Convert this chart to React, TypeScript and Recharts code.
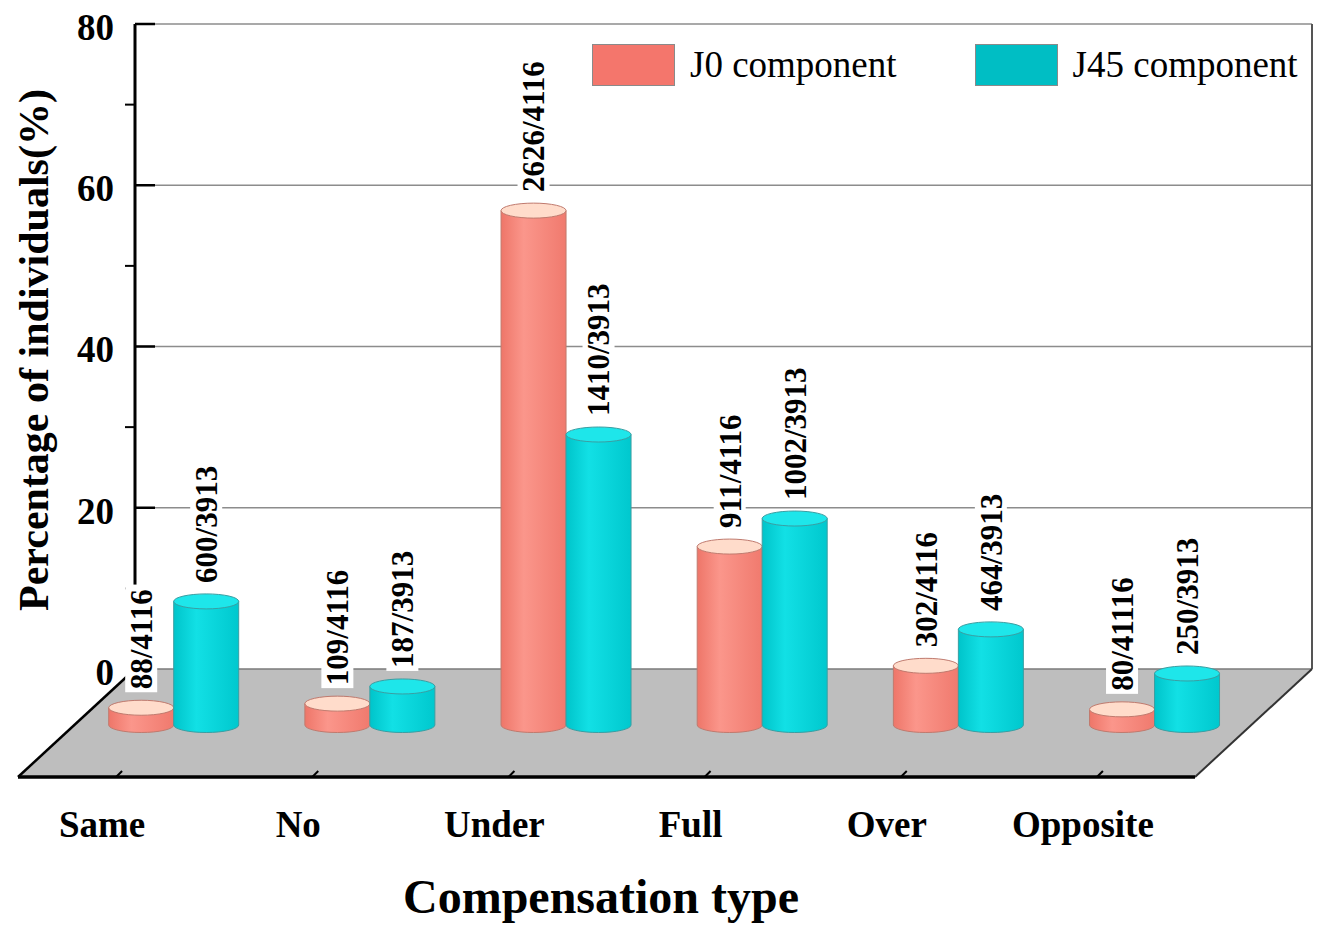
import React from 'react'
import { BarChart, Bar, XAxis, YAxis, CartesianGrid, Legend, LabelList } from 'recharts'

const categories = ['Same', 'No', 'Under', 'Full', 'Over', 'Opposite']
const j0Values = [2.14, 2.65, 63.8, 22.13, 7.34, 1.94]
const j45Values = [15.33, 4.78, 36.03, 25.61, 11.86, 6.39]
const j0Labels = ['88/4116', '109/4116', '2626/4116', '911/4116', '302/4116', '80/41116']
const j45Labels = ['600/3913', '187/3913', '1410/3913', '1002/3913', '464/3913', '250/3913']
const yTicks = [0, 10, 20, 30, 40, 50, 60, 70, 80]
const gridValues = [20, 40, 60, 80]

const data = categories.map((name, i) => ({
  name, j0: j0Values[i], j45: j45Values[i], j0Label: j0Labels[i], j45Label: j45Labels[i],
}))

// layout: the plot area is the back wall, bars sit half way into the floor
const W = 1325, H = 935
const LEFT = 135, RIGHT = 1312, TOP = 24, BOTTOM = 669
const DEPTH_X = -117, DEPTH_Y = 108   // back edge -> front edge of the floor
const DX = -59, DY = 56               // back wall -> bar plane
const RY = 7.5
const FONT = '"Liberation Serif", "Times New Roman", serif'

function Scene() {
  return (
    <g>
      <defs>
        <linearGradient id='g-j0' x1='0' y1='0' x2='1' y2='0'>
          <stop offset='0%' stopColor='#ee7669' />
          <stop offset='35%' stopColor='#fb968b' />
          <stop offset='100%' stopColor='#f07a6e' />
        </linearGradient>
        <linearGradient id='g-j45' x1='0' y1='0' x2='1' y2='0'>
          <stop offset='0%' stopColor='#00c4ca' />
          <stop offset='35%' stopColor='#12e0e5' />
          <stop offset='100%' stopColor='#00c8ce' />
        </linearGradient>
      </defs>
      <polygon
        points={`${LEFT},${BOTTOM} ${RIGHT},${BOTTOM} ${RIGHT + DEPTH_X},${BOTTOM + DEPTH_Y} ${LEFT + DEPTH_X},${BOTTOM + DEPTH_Y}`}
        fill='#bebebe' />
      <line x1={LEFT} y1={BOTTOM} x2={RIGHT} y2={BOTTOM} stroke='#7a7a7a' strokeWidth={1.5} />
      <line x1={RIGHT} y1={TOP} x2={RIGHT} y2={BOTTOM} stroke='#555' strokeWidth={2} />
      <line x1={LEFT} y1={BOTTOM} x2={LEFT + DEPTH_X} y2={BOTTOM + DEPTH_Y} stroke='#000' strokeWidth={2.5} />
      <line x1={RIGHT} y1={BOTTOM} x2={RIGHT + DEPTH_X} y2={BOTTOM + DEPTH_Y} stroke='#333' strokeWidth={2} />
      <line x1={LEFT + DEPTH_X} y1={BOTTOM + DEPTH_Y} x2={RIGHT + DEPTH_X} y2={BOTTOM + DEPTH_Y} stroke='#000' strokeWidth={3.5} />
      <text transform={`translate(48,350) rotate(-90)`} textAnchor='middle' fontFamily={FONT}
        fontWeight='bold' fontSize={42} fill='#000'>Percentage of individuals(%)</text>
      <text x={601} y={913} textAnchor='middle' fontFamily={FONT} fontWeight='bold' fontSize={48} fill='#000'>
        Compensation type
      </text>
    </g>
  )
}

function Cylinder(p: any, grad: string, top: string, edge: string) {
  const { x, y, width, height } = p
  const rx = width / 2
  const cx = x + rx + DX
  const t = y + DY
  const b = y + height + DY
  return (
    <g>
      <path d={`M${cx - rx},${t} L${cx - rx},${b} A${rx},${RY} 0 0 0 ${cx + rx},${b} L${cx + rx},${t} Z`}
        fill={`url(#${grad})`} stroke={edge} strokeWidth={1} />
      <ellipse cx={cx} cy={t} rx={rx} ry={RY} fill={top} stroke={edge} strokeWidth={1} />
    </g>
  )
}

function VLabel(p: any) {
  const { x, y, width, value } = p
  const cx = Number(x) + Number(width) / 2 + DX
  const base = Number(y) + DY - RY - 11
  const s = String(value)
  const fs = 31
  const len = fs * (s.replace('/', '').length * 0.5 + 0.28)
  return (
    <g transform={`translate(${cx},${base}) rotate(-90)`}>
      <rect x={-3} y={-16} width={len + 6} height={32} fill='#fff' />
      <text x={0} y={0} dy='0.35em' textAnchor='start' fontFamily={FONT} fontWeight='bold' fontSize={fs} fill='#000'>
        {s}
      </text>
    </g>
  )
}

function YTick(p: any) {
  const { y, payload } = p
  const v = payload.value
  if (v % 20 !== 0) return <line x1={LEFT - 10} y1={y} x2={LEFT} y2={y} stroke='#000' strokeWidth={2} />
  return (
    <g>
      {v !== 0 && <line x1={LEFT} y1={y} x2={LEFT + 20} y2={y} stroke='#000' strokeWidth={2.5} />}
      <text x={114} y={y + 3} dy='0.35em' textAnchor='end' fontFamily={FONT} fontWeight='bold' fontSize={37} fill='#000'>
        {v}
      </text>
    </g>
  )
}

function XTick(p: any) {
  const { x, payload } = p
  const fx = x + DEPTH_X
  const fy = BOTTOM + DEPTH_Y
  return (
    <g>
      <line x1={fx} y1={fy} x2={fx + 6} y2={fy - 6} stroke='#000' strokeWidth={2} />
      <text x={fx - 14} y={fy + 60} textAnchor='middle' fontFamily={FONT} fontWeight='bold' fontSize={37} fill='#000'>
        {payload.value}
      </text>
    </g>
  )
}

function LegendBox({ payload }: any) {
  return (
    <div style={{ display: 'flex', alignItems: 'center', fontFamily: FONT, fontSize: 37, color: '#000' }}>
      {(payload || []).map((e: any, i: number) => (
        <div key={i} style={{ display: 'flex', alignItems: 'center', marginLeft: i ? 78 : 0 }}>
          <div style={{ width: 83, height: 42, background: e.color, border: '1px solid #8a8a8a', boxSizing: 'border-box' }} />
          <span style={{ marginLeft: 15, whiteSpace: 'nowrap' }}>{e.value}</span>
        </div>
      ))}
    </div>
  )
}

export default function App() {
  const yAxisW = 60, xAxisH = 40
  return (
    <div style={{ position: 'absolute', left: 0, top: 0, width: W, height: H, background: '#fff' }}>
      <BarChart width={W} height={H} data={data}
        margin={{ top: TOP, right: W - RIGHT, left: LEFT - yAxisW, bottom: H - BOTTOM - xAxisH }}
        barCategoryGap='16.67%' barGap={0}>
        <Scene />
        <CartesianGrid horizontal vertical={false} horizontalValues={gridValues} stroke='#8c8c8c' strokeWidth={1.5} />
        <XAxis dataKey='name' height={xAxisH} axisLine={false} tickLine={false} interval={0} tick={<XTick />} />
        <YAxis width={yAxisW} domain={[0, 80]} ticks={yTicks} interval={0} tickLine={false}
          axisLine={{ stroke: '#000', strokeWidth: 3 }} tick={<YTick />} />
        <Legend verticalAlign='middle' align='center' layout='horizontal'
          wrapperStyle={{ top: 43, left: 592, width: 'auto' }} content={<LegendBox />} />
        <Bar dataKey='j0' name='J0 component' fill='#f4766c' isAnimationActive={false}
          shape={(p: any) => Cylinder(p, 'g-j0', '#ffdccb', '#c07a6e')}>
          <LabelList dataKey='j0Label' content={<VLabel />} />
        </Bar>
        <Bar dataKey='j45' name='J45 component' fill='#00bec4' isAnimationActive={false}
          shape={(p: any) => Cylinder(p, 'g-j45', '#1ee6ea', '#3a9ea2')}>
          <LabelList dataKey='j45Label' content={<VLabel />} />
        </Bar>
      </BarChart>
    </div>
  )
}
